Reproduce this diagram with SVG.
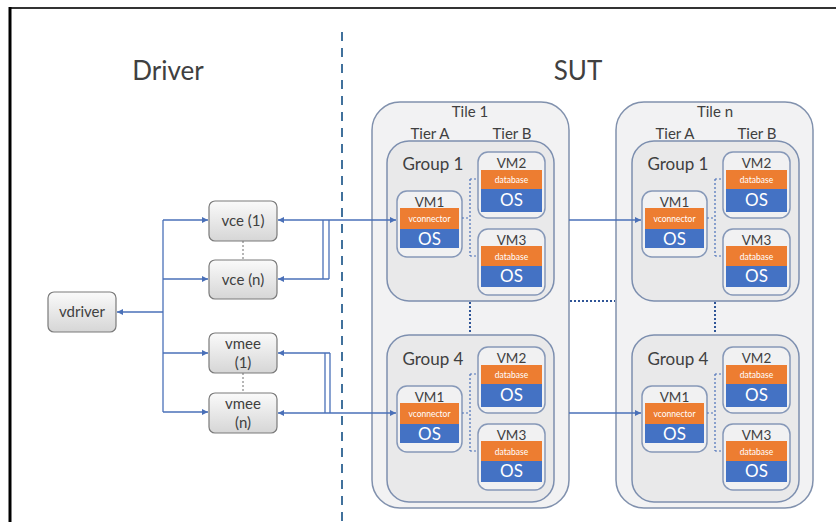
<svg xmlns="http://www.w3.org/2000/svg" width="836" height="522" viewBox="0 0 836 522">
<defs>
<linearGradient id="boxg" x1="0" y1="0" x2="0" y2="1"><stop offset="0" stop-color="#fafafa"/><stop offset="1" stop-color="#d6d6d6"/></linearGradient>
<marker id="arr" viewBox="0 0 8 8" refX="8" refY="4" markerWidth="6" markerHeight="6" markerUnits="userSpaceOnUse" orient="auto-start-reverse"><path d="M0,0 L8,4 L0,8 z" fill="#4a70b8"/></marker>
<style>
text{font-family:Lato,"Liberation Sans",sans-serif;fill:#404040;text-anchor:middle}
.tile{fill:#f2f2f3;stroke:#8191ad;stroke-width:1.5}
.grp{fill:#e9e9ea;stroke:#7d8faf;stroke-width:1.5}
.vm{fill:#f1f1f2;stroke:#8698b8;stroke-width:1.5}
.or{fill:#ed7d31}
.bl{fill:#4472c4}
.box{fill:url(#boxg);stroke:#7a7a7a;stroke-width:1.2}
.wt{fill:#ffffff}
.sm{font-size:8.5px}
.os{font-size:17px}
.vml{font-size:13.5px}
.lbl{font-size:15px}
.gl{font-size:17px}
.con{fill:none;stroke:#4a70b8;stroke-width:1.3}
.dsh{fill:none;stroke:#4a70b8;stroke-width:1.2;stroke-dasharray:2 2}
.dot{fill:none;stroke:#2f5597;stroke-width:2;stroke-dasharray:2 2}
.gd{fill:none;stroke:#6f6f6f;stroke-width:1;stroke-dasharray:2 2}
</style>
</defs>
<rect width="836" height="522" fill="#ffffff"/>
<path d="M10,8 H836" stroke="#333" stroke-width="2" fill="none"/>
<path d="M10,7 V522" stroke="#000" stroke-width="3" fill="none"/>
<path d="M342,32 V522" stroke="#41719c" stroke-width="2" stroke-dasharray="9 7" fill="none"/>
<text x="168" y="80" style="font-size:26px">Driver</text>
<text x="578" y="80" style="font-size:26px">SUT</text>

<g id="tile1">
<rect class="tile" x="372" y="102" width="197" height="406" rx="28"/>
<text class="lbl" x="470" y="117">Tile 1</text>
<text class="lbl" x="430" y="139">Tier A</text>
<text class="lbl" x="512" y="139">Tier B</text>
</g>
<g id="tilen">
<rect class="tile" x="616" y="102" width="197" height="406" rx="28"/>
<text class="lbl" x="715" y="117">Tile n</text>
<text class="lbl" x="675" y="139">Tier A</text>
<text class="lbl" x="757" y="139">Tier B</text>
</g>

<g id="t1g1">
<rect class="grp" x="387" y="141" width="167" height="160" rx="22"/>
<text class="gl" x="433" y="170">Group 1</text>
</g>
<g id="t1g4">
<rect class="grp" x="387" y="335" width="167" height="167" rx="22"/>
<text class="gl" x="433" y="365">Group 4</text>
</g>
<g id="tng1">
<rect class="grp" x="632" y="141" width="167" height="160" rx="22"/>
<text class="gl" x="678" y="170">Group 1</text>
</g>
<g id="tng4">
<rect class="grp" x="632" y="335" width="167" height="167" rx="22"/>
<text class="gl" x="678" y="365">Group 4</text>
</g>

<g id="t1g1vm1"><rect class="vm" x="397" y="191" width="65" height="66" rx="10"/><text class="vml" x="429.5" y="207">VM1</text><rect class="or" x="400" y="208" width="59" height="21"/><text class="wt sm" x="429.5" y="221.5">vconnector</text><rect class="bl" x="400" y="229" width="59" height="19"/><text class="wt os" x="429.5" y="245">OS</text></g>
<g id="t1g1vm2"><rect class="vm" x="478" y="152" width="67" height="66" rx="10"/><text class="vml" x="511.5" y="168">VM2</text><rect class="or" x="481" y="170" width="61" height="19"/><text class="wt sm" x="511.5" y="182.5">database</text><rect class="bl" x="481" y="189" width="61" height="23"/><text class="wt os" x="511.5" y="206">OS</text></g>
<g id="t1g1vm3"><rect class="vm" x="478" y="229" width="67" height="66" rx="10"/><text class="vml" x="511.5" y="245">VM3</text><rect class="or" x="481" y="246" width="61" height="20"/><text class="wt sm" x="511.5" y="259.5">database</text><rect class="bl" x="481" y="266" width="61" height="21"/><text class="wt os" x="511.5" y="282">OS</text></g>

<g id="t1g4vm1" transform="translate(0,195)"><rect class="vm" x="397" y="191" width="65" height="66" rx="10"/><text class="vml" x="429.5" y="207">VM1</text><rect class="or" x="400" y="208" width="59" height="21"/><text class="wt sm" x="429.5" y="221.5">vconnector</text><rect class="bl" x="400" y="229" width="59" height="19"/><text class="wt os" x="429.5" y="245">OS</text></g>
<g id="t1g4vm2" transform="translate(0,195)"><rect class="vm" x="478" y="152" width="67" height="66" rx="10"/><text class="vml" x="511.5" y="168">VM2</text><rect class="or" x="481" y="170" width="61" height="19"/><text class="wt sm" x="511.5" y="182.5">database</text><rect class="bl" x="481" y="189" width="61" height="23"/><text class="wt os" x="511.5" y="206">OS</text></g>
<g id="t1g4vm3" transform="translate(0,195)"><rect class="vm" x="478" y="229" width="67" height="66" rx="10"/><text class="vml" x="511.5" y="245">VM3</text><rect class="or" x="481" y="246" width="61" height="20"/><text class="wt sm" x="511.5" y="259.5">database</text><rect class="bl" x="481" y="266" width="61" height="21"/><text class="wt os" x="511.5" y="282">OS</text></g>

<g id="tng1vm1" transform="translate(245,0)"><rect class="vm" x="397" y="191" width="65" height="66" rx="10"/><text class="vml" x="429.5" y="207">VM1</text><rect class="or" x="400" y="208" width="59" height="21"/><text class="wt sm" x="429.5" y="221.5">vconnector</text><rect class="bl" x="400" y="229" width="59" height="19"/><text class="wt os" x="429.5" y="245">OS</text></g>
<g id="tng1vm2" transform="translate(245,0)"><rect class="vm" x="478" y="152" width="67" height="66" rx="10"/><text class="vml" x="511.5" y="168">VM2</text><rect class="or" x="481" y="170" width="61" height="19"/><text class="wt sm" x="511.5" y="182.5">database</text><rect class="bl" x="481" y="189" width="61" height="23"/><text class="wt os" x="511.5" y="206">OS</text></g>
<g id="tng1vm3" transform="translate(245,0)"><rect class="vm" x="478" y="229" width="67" height="66" rx="10"/><text class="vml" x="511.5" y="245">VM3</text><rect class="or" x="481" y="246" width="61" height="20"/><text class="wt sm" x="511.5" y="259.5">database</text><rect class="bl" x="481" y="266" width="61" height="21"/><text class="wt os" x="511.5" y="282">OS</text></g>

<g id="tng4vm1" transform="translate(245,195)"><rect class="vm" x="397" y="191" width="65" height="66" rx="10"/><text class="vml" x="429.5" y="207">VM1</text><rect class="or" x="400" y="208" width="59" height="21"/><text class="wt sm" x="429.5" y="221.5">vconnector</text><rect class="bl" x="400" y="229" width="59" height="19"/><text class="wt os" x="429.5" y="245">OS</text></g>
<g id="tng4vm2" transform="translate(245,195)"><rect class="vm" x="478" y="152" width="67" height="66" rx="10"/><text class="vml" x="511.5" y="168">VM2</text><rect class="or" x="481" y="170" width="61" height="19"/><text class="wt sm" x="511.5" y="182.5">database</text><rect class="bl" x="481" y="189" width="61" height="23"/><text class="wt os" x="511.5" y="206">OS</text></g>
<g id="tng4vm3" transform="translate(245,195)"><rect class="vm" x="478" y="229" width="67" height="66" rx="10"/><text class="vml" x="511.5" y="245">VM3</text><rect class="or" x="481" y="246" width="61" height="20"/><text class="wt sm" x="511.5" y="259.5">database</text><rect class="bl" x="481" y="266" width="61" height="21"/><text class="wt os" x="511.5" y="282">OS</text></g>

<g id="vdriver"><rect class="box" x="48" y="292" width="68" height="40" rx="6"/><text class="lbl" x="82" y="317">vdriver</text></g>
<g id="vce1"><rect class="box" x="209" y="201" width="68" height="40" rx="6"/><text class="lbl" x="243" y="226">vce (1)</text></g>
<g id="vcen"><rect class="box" x="209" y="260" width="68" height="39" rx="6"/><text class="lbl" x="243" y="285">vce (n)</text></g>
<g id="vmee1"><rect class="box" x="209" y="333" width="68" height="40" rx="6"/><text class="lbl" x="243" y="349">vmee</text><text class="lbl" x="243" y="368">(1)</text></g>
<g id="vmeen"><rect class="box" x="209" y="393" width="68" height="40" rx="6"/><text class="lbl" x="243" y="409">vmee</text><text class="lbl" x="243" y="428">(n)</text></g>

<g id="connectors">
<path class="gd" d="M243,241 V260 M243,373 V393"/>
<path class="con" d="M163,312 H117" stroke-width="2.2" marker-end="url(#arr)"/>
<path class="con" d="M163,220 V412"/>
<path class="con" d="M163,220 H208" marker-end="url(#arr)"/>
<path class="con" d="M163,279 H208" marker-end="url(#arr)"/>
<path class="con" d="M163,353 H208" marker-end="url(#arr)"/>
<path class="con" d="M163,412 H208" marker-end="url(#arr)"/>
<path class="con" d="M278,220 H396" stroke-width="1.6" marker-start="url(#arr)" marker-end="url(#arr)"/>
<path class="con" d="M323,220 V279 M329,220 V279"/>
<path class="con" d="M329,279 H278" marker-end="url(#arr)"/>
<path class="con" d="M278,413 H396" stroke-width="1.6" marker-start="url(#arr)" marker-end="url(#arr)"/>
<path class="con" d="M325,353 V413 M330,353 V413"/>
<path class="con" d="M330,353 H278" marker-end="url(#arr)"/>
<path class="con" d="M569,220 H641" marker-end="url(#arr)"/>
<path class="con" d="M569,413 H641" marker-end="url(#arr)"/>
<path class="dsh" d="M462,218 H470 M470,179 V256 M470,179 H478 M470,256 H478"/>
<path class="dsh" d="M462,413 H470 M470,374 V451 M470,374 H478 M470,451 H478"/>
<path class="dsh" d="M707,218 H715 M715,179 V256 M715,179 H723 M715,256 H723"/>
<path class="dsh" d="M707,413 H715 M715,374 V451 M715,374 H723 M715,451 H723"/>
<path class="dot" d="M470,302 V334 M715,302 V334 M570,301 H615"/>
</g>
</svg>
